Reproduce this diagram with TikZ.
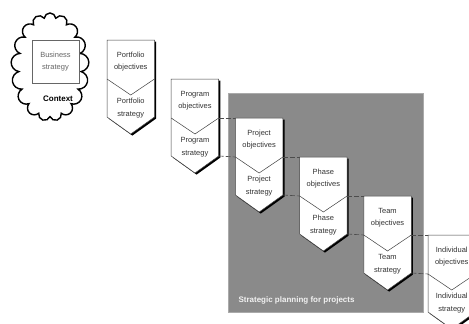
\documentclass[tikz,border=0pt]{standalone}
\usepackage{fontspec}
\setmainfont{Liberation Sans}
\usetikzlibrary{positioning}
\usetikzlibrary{calc}
\usetikzlibrary{shapes.symbols}
\usetikzlibrary{shadows}
\definecolor{plangray}{RGB}{138,138,138}
\definecolor{planedge}{RGB}{170,170,170}

\begin{document}
\begin{tikzpicture}[x=1pt, y=-1pt,
    objpart/.style={minimum width=47.5pt, minimum height=39pt, inner sep=0pt, outer sep=0pt, anchor=north west},
    strpart/.style={minimum width=47.5pt, minimum height=38pt, inner sep=0pt, outer sep=0pt, anchor=north west},
    blockshape/.style={draw=black!75, line width=0.5pt, fill=white,
        drop shadow={shadow xshift=1.6pt, shadow yshift=-1.6pt, opacity=1, fill=black}},
    blockline/.style={draw=black!75, line width=0.5pt},
    blocktext/.style={align=center, font=\fontsize{7.5}{12.5}\selectfont, text=black!80},
    link/.style={draw=black!70, line width=0.6pt, dash pattern=on 5pt off 2pt},
    every node/.style={align=center}]

    \useasboundingbox (0,0) rectangle (469,324);
    \clip (0,0) rectangle (469,324);

    % Grey frame
    \node[fill=plangray, draw=planedge, line width=0.6pt, minimum width=195pt, minimum height=219pt,
          inner sep=0pt, anchor=north west] (plan) at (228,93) {};
    \node[anchor=base west, font=\fontsize{8}{10}\selectfont\bfseries, text=white!95!black] (plantxt)
          at (235,302) {Strategic planning for projects};

    % Context cloud
    \node[cloud, draw=black, line width=1.4pt, fill=white, cloud puffs=17, cloud puff arc=170,
          cloud ignores aspect, minimum width=78pt, minimum height=108pt] (ctx) at (50,67) {};
    \node[draw=black!60, line width=0.5pt, fill=white, minimum width=47pt, minimum height=43pt,
          font=\fontsize{7.5}{12.5}\selectfont, text=black!60,
          drop shadow={shadow xshift=1.2pt, shadow yshift=-1.2pt, opacity=1, fill=black!30}] (biz)
          at (55.5,61.5) {Business\\strategy};
    \node[font=\fontsize{8}{10}\selectfont\bfseries] (ctxtxt) at (58,99) {Context};

    % Objective / strategy blocks
    \foreach \n/\t/\x/\y in {port/Portfolio/107/40, prog/Program/171.2/79, proj/Project/235.4/118,
                             phas/Phase/299.6/157, team/Team/363.8/196, indi/Individual/428/235} {
        \path[blockshape] (\x,\y) -- ++(47.5,0) -- ++(0,77) -- ++(-23.75,17) -- ++(-23.75,-17) -- cycle;
        \draw[blockline] (\x,\y+39) -- ++(23.75,16) -- ++(23.75,-16);
        \node[objpart] (\n-obj) at (\x,\y) {};
        \node[strpart] (\n-str) at (\x,\y+39) {};
        \node[blocktext] (\n-objtxt) at (\x+23.75,\y+21.5) {\t\\objectives};
        \node[blocktext] (\n-strtxt) at (\x+23.75,\y+68) {\t\\strategy};
    }

    % Dashed links between blocks
    \foreach \a/\b in {prog/proj, proj/phas, phas/team, team/indi} {
        \draw[link] (\a-obj.south east) -- (\b-obj.north west);
        \draw[link] (\a-str.south east) -- (\b-str.north west);
    }

\end{tikzpicture}
\end{document}
